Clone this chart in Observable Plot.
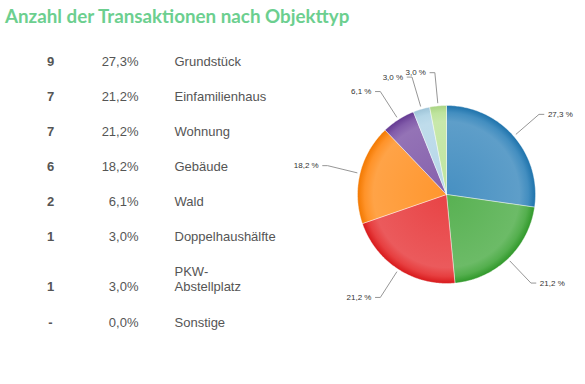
<!DOCTYPE html>
<html>
<head>
<meta charset="utf-8">
<script src="https://cdn.jsdelivr.net/npm/d3@7"></script>
<script src="https://cdn.jsdelivr.net/npm/@observablehq/plot@0.6"></script>
<style>
  html, body { margin: 0; padding: 0; background: #fff; }
  #wrap { position: relative; width: 585px; height: 384px; overflow: hidden; }
  #title { position: absolute; left: 5px; top: 6px; font-family: Lato, "Open Sans", sans-serif; font-weight: 700; font-size: 18.8px; line-height: 19px; color: #6ccf8f; white-space: nowrap; }
  #table { position: absolute; left: 0; top: 36px; }
  #pie { position: absolute; left: 290px; top: 36px; }
</style>
</head>
<body>
<div id="wrap">
  <div id="title">Anzahl der Transaktionen nach Objekttyp</div>
  <div id="table"></div>
  <div id="pie"></div>
</div>
<script>
const categories = ["Grundstück", "Einfamilienhaus", "Wohnung", "Gebäude", "Wald", "Doppelhaushälfte", "PKW-\nAbstellplatz", "Sonstige"];
const counts = [9, 7, 7, 6, 2, 1, 1, 0];
const shares = [27.3, 21.2, 21.2, 18.2, 6.1, 3.0, 3.0, 0.0];
const colors = ["#1f78b4", "#33a02c", "#e31a1c", "#ff7f00", "#6a3d9a", "#a6cee3", "#b2df8a", "#fb9a99"];

const fmt = v => v.toFixed(1).replace(".", ",");

// ---------- table ----------
let extra = 0;
const rows = categories.map((name, i) => {
  extra += name.split("\n").length - 1;
  return {name, count: counts[i], share: shares[i], pos: i + extra * 15 / 35};
});
const maxPos = d3.max(rows, d => d.pos);

const textStyle = {fontFamily: "Liberation Sans, Arial, Helvetica, sans-serif", fontSize: 13, fill: "#555", lineAnchor: "bottom", frameAnchor: "left"};
const tablePlot = Plot.plot({
  width: 290, height: 348,
  marginLeft: 0, marginRight: 0,
  y: {type: "linear", domain: [0, maxPos], range: [29, 290], axis: null},
  marks: [
    Plot.text(rows, {y: "pos", text: d => d.count === 0 ? "-" : String(d.count), textAnchor: "middle", dx: 50, fontWeight: "bold", ...textStyle}),
    Plot.text(rows, {y: "pos", text: d => fmt(d.share) + "%", textAnchor: "end", dx: 138, ...textStyle}),
    Plot.text(rows, {y: "pos", text: "name", textAnchor: "start", dx: 174, lineHeight: 1.15, ...textStyle})
  ]
});
document.getElementById("table").append(tablePlot);

// ---------- pie ----------
const arcs = d3.pie().sort(null).value(d => d)(counts)
  .map((a, i) => ({...a, i, share: shares[i], color: colors[i]}))
  .filter(a => a.value > 0);

const slicePts = arcs.map(a => {
  const n = Math.max(2, Math.ceil((a.endAngle - a.startAngle) / (Math.PI / 180)));
  const pts = [{x: 0, y: 0}];
  for (let k = 0; k <= n; k++) {
    const t = a.startAngle + (a.endAngle - a.startAngle) * k / n;
    pts.push({x: Math.sin(t), y: Math.cos(t)});
  }
  pts.push({x: 0, y: 0});
  return pts;
});

const rIn = 1.035, rElbow = 1.375, hLen = 0.055;
const leaders = [];
const labels = [];
arcs.forEach(a => {
  const m = (a.startAngle + a.endAngle) / 2;
  const sx = Math.sin(m), sy = Math.cos(m);
  const right = sx >= 0;
  const ex = sx * rElbow, ey = sy * rElbow;
  const hx = ex + (right ? hLen : -hLen);
  leaders.push({k: a.i, x: sx * rIn, y: sy * rIn}, {k: a.i, x: ex, y: ey}, {k: a.i, x: hx, y: ey});
  labels.push({x: hx, y: ey, right, text: fmt(a.share) + " %"});
});

const R = 89, cx = 156, cy = 158;
const labelStyle = {fontSize: 8, fill: "#333", fontFamily: "Liberation Sans, Arial, sans-serif"};
const piePlot = Plot.plot({
  width: 295, height: 348,
  x: {type: "linear", domain: [-1, 1], range: [cx - R, cx + R], axis: null},
  y: {type: "linear", domain: [-1, 1], range: [cy + R, cy - R], axis: null},
  marks: [
    ...slicePts.map((pts, j) => Plot.line(pts, {x: "x", y: "y", fill: `url(#pg${arcs[j].i})`, stroke: "#fff", strokeWidth: 0.6, strokeOpacity: 0.7, curve: "linear"})),
    Plot.line(leaders, {x: "x", y: "y", z: "k", stroke: "#8a8a8a", strokeWidth: 0.9}),
    Plot.text(labels.filter(d => d.right), {x: "x", y: "y", text: "text", textAnchor: "start", dx: 4, ...labelStyle}),
    Plot.text(labels.filter(d => !d.right), {x: "x", y: "y", text: "text", textAnchor: "end", dx: -4, ...labelStyle})
  ]
});

// radial gradients for the shaded slices
const xs = piePlot.scale("x"), ys = piePlot.scale("y");
const gx = xs.apply(0), gy = ys.apply(0), gr = xs.apply(1) - xs.apply(0);
const defs = d3.select(piePlot).insert("defs", ":first-child");
arcs.forEach(a => {
  const c = a.color;
  const mix = t => d3.interpolateRgb(c, "#fff")(t);
  const g = defs.append("radialGradient").attr("id", `pg${a.i}`)
    .attr("gradientUnits", "userSpaceOnUse").attr("cx", gx).attr("cy", gy).attr("r", gr);
  [[0, mix(0.18)], [0.82, mix(0.28)], [0.92, mix(0.16)], [1, d3.color(c).darker(0.15).formatHex()]]
    .forEach(([o, col]) => g.append("stop").attr("offset", o).attr("stop-color", col));
});
document.getElementById("pie").append(piePlot);
</script>
</body>
</html>
